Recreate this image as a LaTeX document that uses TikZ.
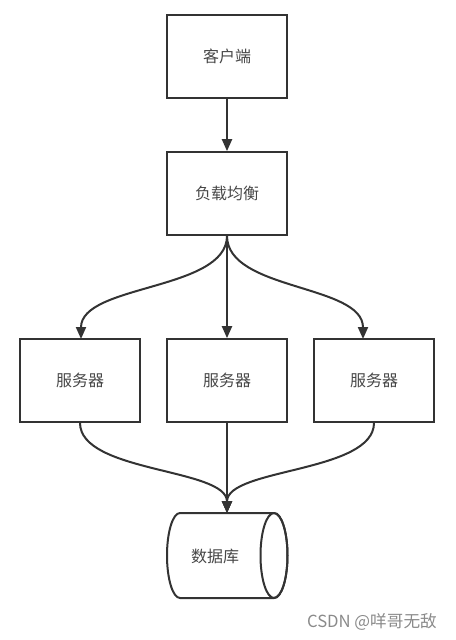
\documentclass[tikz,border=0pt]{standalone}
\usepackage{fontspec}
\setmainfont{Noto Sans CJK SC}
\usetikzlibrary{arrows.meta,calc}
\definecolor{ln}{HTML}{333333}
\definecolor{wm}{HTML}{8A8A8A}
\begin{document}
\begin{tikzpicture}[x=0.75pt,y=-0.75pt,
  box/.style={draw=ln,line width=1.5pt,minimum width=90pt,minimum height=62pt,inner sep=0pt,font=\fontsize{12}{14}\selectfont,text=ln!90},
  conn/.style={draw=ln,line width=1.5pt,-{Triangle[length=9pt,width=7.5pt]}},
  plain/.style={draw=ln,line width=1.5pt}]
\useasboundingbox (0,0) rectangle (456,640);
\node[box] (client) at (227,56.5) {客户端};
\node[box] (lb) at (227,193.5) {负载均衡};
\node[box] (s1) at (80,380.5) {服务器};
\node[box] (s2) at (227,380.5) {服务器};
\node[box] (s3) at (374,380.5) {服务器};
% cylinder
\draw[plain,fill=white] (180,513) -- (274,513) arc[start angle=-90,end angle=90,x radius=13.5,y radius=42.5] -- (180,598) arc[start angle=90,end angle=270,x radius=13,y radius=42.5] -- cycle;
\draw[plain] (274,513) arc[start angle=-90,end angle=270,x radius=13.5,y radius=42.5];
\node[font=\fontsize{12}{14}\selectfont,text=ln!90] (db) at (215,556) {数据库};
\coordinate (dbtop) at (227,513);
\coordinate (s3in) at (363,339);
\coordinate (s1in) at (81,339);
\draw[conn] (client) -- (lb);
\draw[conn] (lb.south) .. controls +(0,55) and +(0,-55) .. (s1in);
\draw[conn] (lb) -- (s2);
\draw[conn] (lb.south) .. controls +(0,55) and +(0,-55) .. (s3in);
\draw[conn] (s1.south) .. controls +(0,50) and +(0,-45) .. (dbtop);
\draw[conn] (s2) -- (dbtop);
\draw[conn] (s3.south) .. controls +(0,50) and +(0,-45) .. (dbtop);
\node[font=\fontsize{12.5}{14}\selectfont,text=wm] (wmark) at (372,622) {CSDN @咩哥无敌};
\end{tikzpicture}
\end{document}
